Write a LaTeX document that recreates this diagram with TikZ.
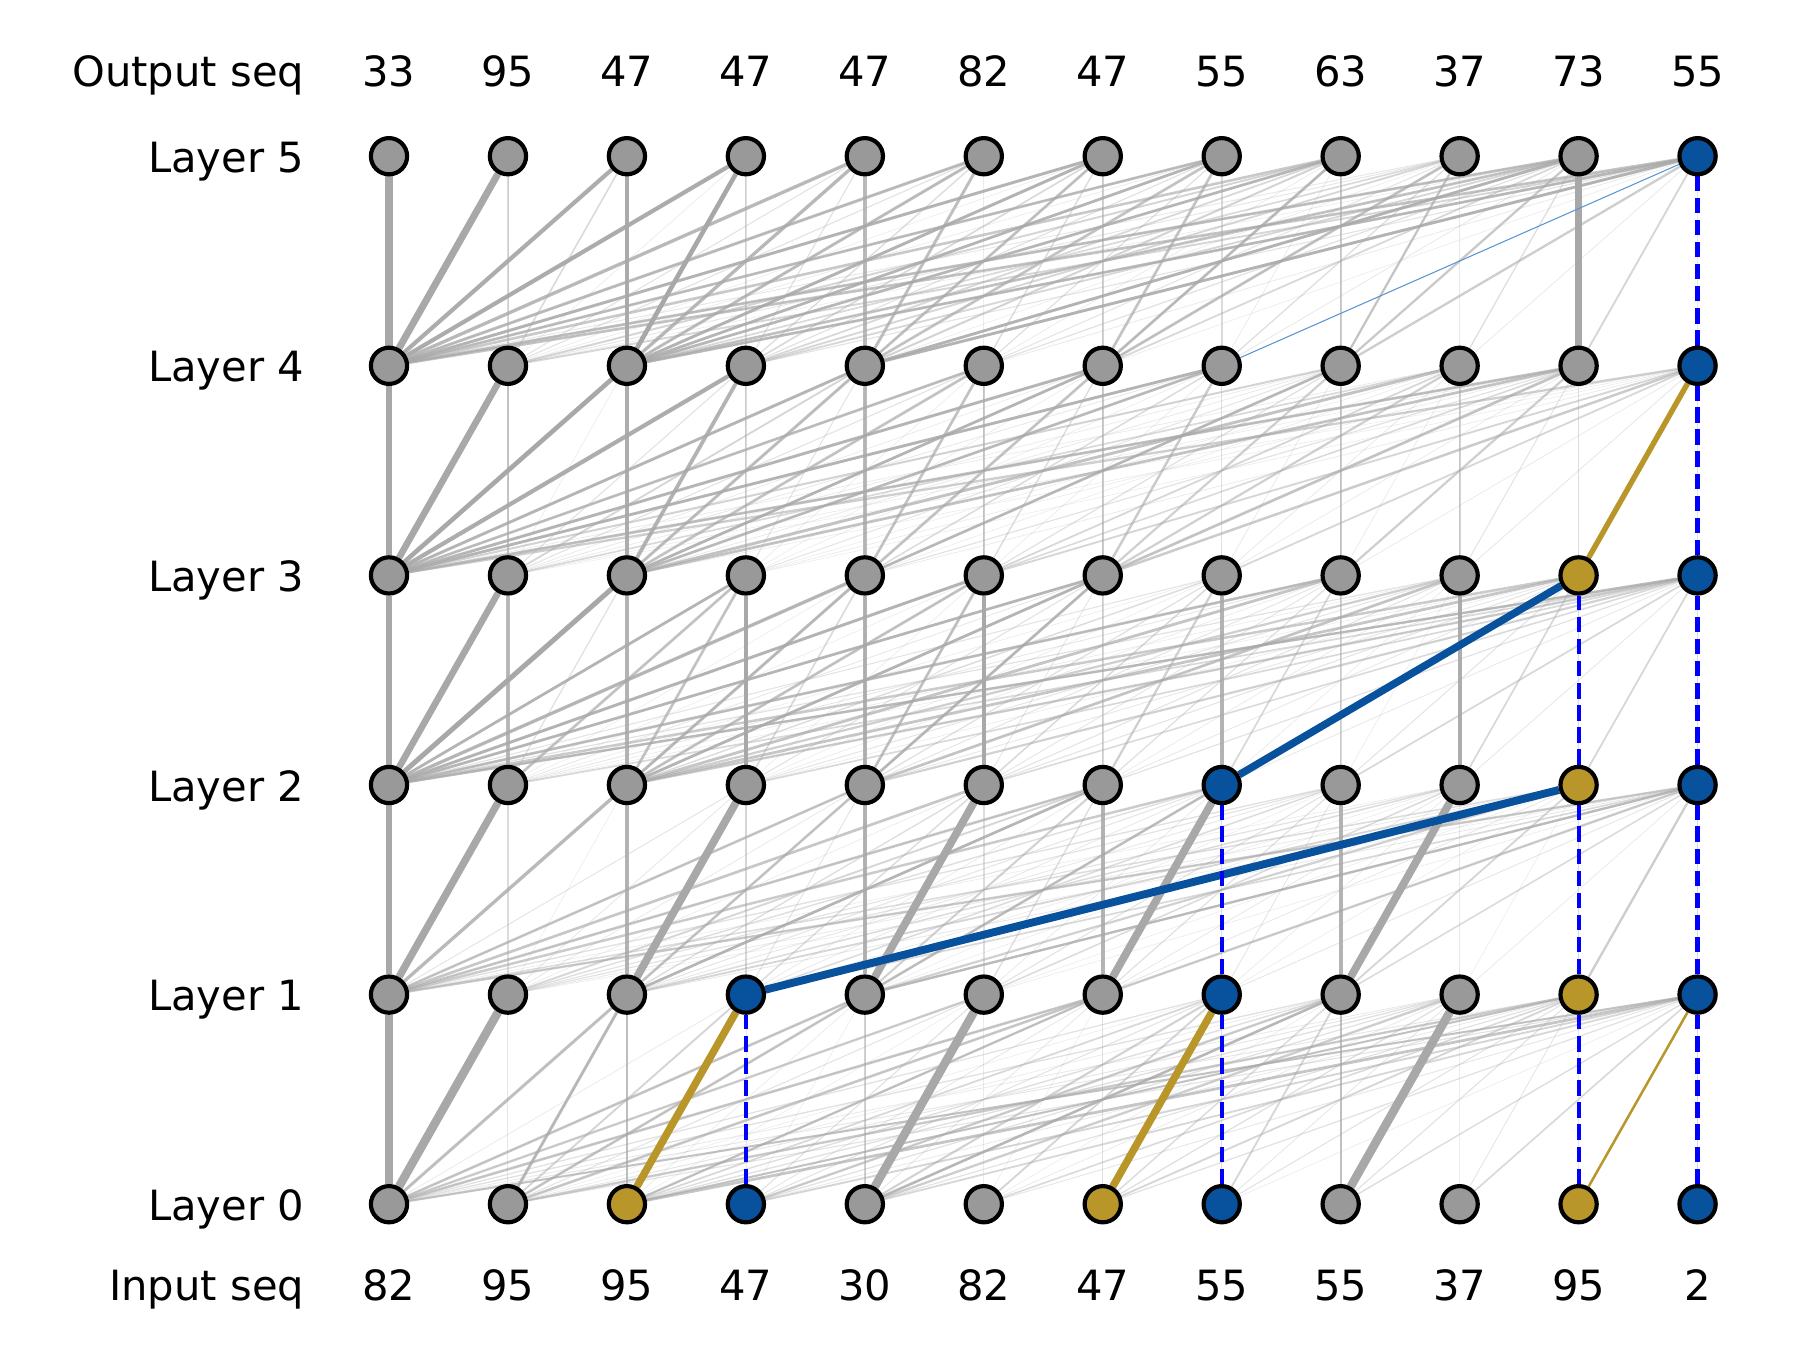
\documentclass[tikz,border=0pt]{standalone}
\usepackage{fontspec}
\setmainfont{DejaVu Sans}
\pgfdeclarelayer{edges}
\pgfdeclarelayer{hl}
\pgfsetlayers{edges,hl,main}
\definecolor{nodegray}{RGB}{153,153,153}
\definecolor{hlgold}{RGB}{185,150,42}
\definecolor{hlblue}{RGB}{8,81,156}
\definecolor{edgegray}{RGB}{168,168,168}
\definecolor{thinblue}{RGB}{90,150,215}
\definecolor{dashblue}{RGB}{0,0,255}
\expandafter\def\csname c-0-2\endcsname{hlgold}
\expandafter\def\csname c-0-6\endcsname{hlgold}
\expandafter\def\csname c-0-10\endcsname{hlgold}
\expandafter\def\csname c-0-3\endcsname{hlblue}
\expandafter\def\csname c-0-7\endcsname{hlblue}
\expandafter\def\csname c-0-11\endcsname{hlblue}
\expandafter\def\csname c-1-3\endcsname{hlblue}
\expandafter\def\csname c-1-7\endcsname{hlblue}
\expandafter\def\csname c-1-10\endcsname{hlgold}
\expandafter\def\csname c-1-11\endcsname{hlblue}
\expandafter\def\csname c-2-7\endcsname{hlblue}
\expandafter\def\csname c-2-10\endcsname{hlgold}
\expandafter\def\csname c-2-11\endcsname{hlblue}
\expandafter\def\csname c-3-10\endcsname{hlgold}
\expandafter\def\csname c-3-11\endcsname{hlblue}
\expandafter\def\csname c-4-11\endcsname{hlblue}
\expandafter\def\csname c-5-11\endcsname{hlblue}
\begin{document}
\begin{tikzpicture}[x=0.24pt,y=-0.24pt,
  tok/.style={circle,draw=black,line width=1pt,minimum size=8.7pt,inner sep=0pt},
  edge/.code={\pgfmathsetmacro\elw{0.15+1.9*#1}\pgfmathsetmacro\eop{min(1,0.22+1.6*#1)}%
    \tikzset{draw=edgegray,line width=\elw pt,draw opacity=\eop}},
  hlgoldline/.style={draw=hlgold,line width=#1},
  hlblueline/.style={draw=hlblue,line width=#1},
  path/.style={draw=dashblue,line width=1pt,dash pattern=on 3.7pt off 1.6pt},
  lbl/.style={anchor=base east,inner sep=0pt,font=\fontsize{10pt}{12pt}\selectfont},
  num/.style={anchor=base,inner sep=0pt,font=\fontsize{10pt}{12pt}\selectfont}]
\useasboundingbox (0,0) rectangle (1800,1350);
% nodes
\foreach \l in {0,...,5}{
  \foreach \i in {0,...,11}{
    \ifcsname c-\l-\i\endcsname\edef\fc{\csname c-\l-\i\endcsname}\else\def\fc{nodegray}\fi
    \node[tok,fill=\fc] (n\l-\i) at ({389+118.96*\i},{1204.2-209.6*\l}) {};
  }
}
% labels
\node[lbl] (out) at (305,86) {Output seq};
\node[lbl] (inp) at (305,1300) {Input seq};
\foreach \l in {0,...,5}{
  \node[lbl] (lab\l) at (305,{1204.2-209.6*\l+16}) {Layer \l};
}
\foreach \t [count=\c from 0] in {33,95,47,47,47,82,47,55,63,37,73,55}{
  \node[num] (o\c) at ({389+118.96*\c},86) {\t};
}
\foreach \t [count=\c from 0] in {82,95,95,47,30,82,47,55,55,37,95,2}{
  \node[num] (s\c) at ({389+118.96*\c},1300) {\t};
}
% attention edges
\begin{pgfonlayer}{edges}
\pgfmathsetseed{1234}
\foreach \l [evaluate=\l as \u using int(\l+1)] in {0,...,4}{
  \foreach \j in {1,...,11}{
    \foreach \i in {0,...,\j}{
      \pgfmathsetmacro\w{0.3*rnd^2*(isodd(\i)?0.55:1)}
      \draw[edge=\w] (n\l-\i) -- (n\u-\j);
    }
  }
}
% band 0 -> 1
\foreach \i/\j/\w in {0/0/0.9,0/1/1.0,0/2/0.3,1/2/0.3,2/2/0.18,4/4/0.18,4/5/1.0,8/8/0.13,8/9/1.0,
  0/4/0.25,1/4/0.25,0/5/0.22,0/6/0.25,1/6/0.25,2/6/0.22,3/8/0.22,4/8/0.25,1/10/0.22,2/10/0.18,0/11/0.18}
  \draw[edge=\w] (n0-\i) -- (n1-\j);
% band 1 -> 2
\foreach \i/\j/\w in {0/0/0.8,0/1/0.85,0/2/0.35,2/2/0.4,2/3/0.9,0/4/0.25,2/4/0.25,4/4/0.4,4/5/0.9,
  6/6/0.4,6/7/0.9,8/8/0.4,8/9/0.9,0/6/0.25,2/6/0.25,4/7/0.25,0/11/0.22,4/11/0.22,6/11/0.22}
  \draw[edge=\w] (n1-\i) -- (n2-\j);
% band 2 -> 3
\foreach \i/\j/\w in {0/0/0.8,0/1/0.75,1/1/0.35,0/2/0.55,2/2/0.4,3/3/0.5,2/3/0.27,1/3/0.27,4/4/0.4,
  2/4/0.3,0/4/0.35,5/5/0.5,4/5/0.27,6/6/0.13,7/7/0.4,8/8/0.13,9/9/0.45,0/3/0.27,0/5/0.3,2/5/0.27,
  0/6/0.27,2/6/0.27,4/6/0.27,0/8/0.27,4/9/0.27,0/11/0.22,2/11/0.22}
  \draw[edge=\w] (n2-\i) -- (n3-\j);
% band 3 -> 4
\foreach \i/\j/\w in {0/0/0.75,0/1/0.75,1/1/0.27,0/2/0.5,2/2/0.45,0/3/0.45,2/3/0.4,3/3/0.13,4/4/0.35,
  5/5/0.22,6/6/0.22,8/8/0.22,9/9/0.18,0/4/0.3,2/4/0.3,0/5/0.27,2/5/0.27,4/5/0.27,0/6/0.3,2/6/0.27,
  4/6/0.27,0/7/0.27,2/7/0.27,4/8/0.27,0/10/0.27,2/10/0.27,6/10/0.27}
  \draw[edge=\w] (n3-\i) -- (n4-\j);
% band 4 -> 5
\foreach \i/\j/\w in {0/0/0.85,0/1/0.8,1/1/0.13,0/2/0.45,2/2/0.45,0/3/0.45,2/3/0.5,3/3/0.09,4/4/0.35,
  6/6/0.18,8/8/0.22,10/10/0.85,0/4/0.35,2/4/0.35,0/5/0.3,2/5/0.3,4/5/0.3,0/6/0.3,2/6/0.3,4/6/0.27,
  0/7/0.27,2/7/0.27,4/7/0.27,6/7/0.27,2/8/0.27,6/8/0.27,6/9/0.27,8/9/0.22,0/10/0.27,2/10/0.27,4/10/0.27,8/10/0.22,
  0/11/0.27,2/11/0.27,4/11/0.27}
  \draw[edge=\w] (n4-\i) -- (n5-\j);
\end{pgfonlayer}
% highlighted path
\begin{pgfonlayer}{hl}
\draw[hlgoldline=1.8pt] (n0-2) -- (n1-3);
\draw[hlgoldline=1.8pt] (n0-6) -- (n1-7);
\draw[hlgoldline=0.6pt] (n0-10) -- (n1-11);
\draw[hlblueline=1.9pt] (n1-3) -- (n2-10);
\draw[hlblueline=1.8pt] (n2-7) -- (n3-10);
\draw[hlgoldline=1.3pt] (n3-10) -- (n4-11);
\draw[draw=thinblue,line width=0.25pt] (n4-7) -- (n5-11);
\draw[path] (n0-3) -- (n1-3);
\draw[path] (n0-7) -- (n1-7);
\draw[path] (n1-7) -- (n2-7);
\draw[path] (n0-10) -- (n1-10);
\draw[path] (n1-10) -- (n2-10);
\draw[path] (n2-10) -- (n3-10);
\foreach \l [evaluate=\l as \u using int(\l+1)] in {0,...,4}
  \draw[path] (n\l-11) -- (n\u-11);
\end{pgfonlayer}
\end{tikzpicture}
\end{document}
